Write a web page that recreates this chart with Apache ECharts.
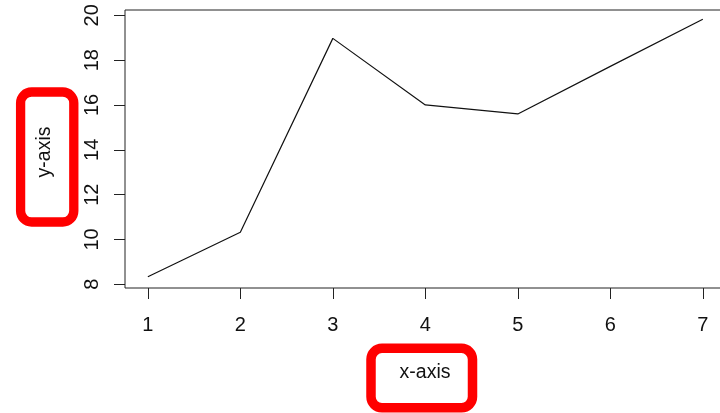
<!DOCTYPE html>
<html><head><meta charset="utf-8">
<script src="https://cdn.jsdelivr.net/npm/echarts@6/dist/echarts.min.js"></script>
<style>html,body{margin:0;padding:0;background:#fff}#c{width:720px;height:413px}</style>
</head><body><div id="c"></div>
<script>
const xValues = [1, 2, 3, 4, 5, 6, 7];
const yValues = [8.34, 10.32, 18.97, 16.0, 15.6, 17.72, 19.82];
const xTicks = [1, 2, 3, 4, 5, 6, 7];
const yTicks = [8, 10, 12, 14, 16, 18, 20];
const xTitle = 'x-axis';
const yTitle = 'y-axis';

const FONT = 'Liberation Sans, Arial, sans-serif';
const chart = echarts.init(document.getElementById('c'), null, {renderer: 'canvas'});
chart.setOption({
  animation: false,
  backgroundColor: '#fff',
  grid: {left: 125, top: 10, right: -5, bottom: 125, show: true, borderColor: '#222', borderWidth: 1, containLabel: false, outerBoundsMode: 'none'},
  xAxis: {
    type: 'value', min: 0.753, max: 7.24,
    axisLine: {show: false},
    splitLine: {show: false},
    axisTick: {show: true, customValues: xTicks, length: 11, lineStyle: {color: '#222', width: 1}},
    axisLabel: {customValues: xTicks, fontSize: 20, color: '#111', fontFamily: FONT, margin: 27}
  },
  yAxis: {
    type: 'value', min: 7.835, max: 20.236,
    axisLine: {show: false},
    splitLine: {show: false},
    axisTick: {show: true, customValues: yTicks, length: 11, lineStyle: {color: '#222', width: 1}},
    axisLabel: {customValues: yTicks, fontSize: 20, color: '#111', fontFamily: FONT, margin: 23, rotate: 90}
  },
  series: [{
    type: 'line',
    data: xValues.map((x, i) => [x, yValues[i]]),
    symbol: 'none',
    lineStyle: {color: '#111', width: 1.2}
  }],
  graphic: [
    {type: 'rect', shape: {x: 20.6, y: 92, width: 53.2, height: 130, r: 11}, style: {fill: 'none', stroke: '#ff0000', lineWidth: 9.3}},
    {type: 'rect', shape: {x: 371, y: 348.3, width: 101.5, height: 59.5, r: 11}, style: {fill: 'none', stroke: '#ff0000', lineWidth: 9.5}},
    {type: 'text', x: 45, y: 152, rotation: Math.PI / 2, style: {text: yTitle, x: 0, y: 0, align: 'center', verticalAlign: 'middle', fontSize: 19.5, fontFamily: FONT, fill: '#111'}},
    {type: 'text', x: 425, y: 373, style: {text: xTitle, x: 0, y: 0, align: 'center', verticalAlign: 'middle', fontSize: 19.5, fontFamily: FONT, fill: '#111'}}
  ]
});
</script>
</body></html>
